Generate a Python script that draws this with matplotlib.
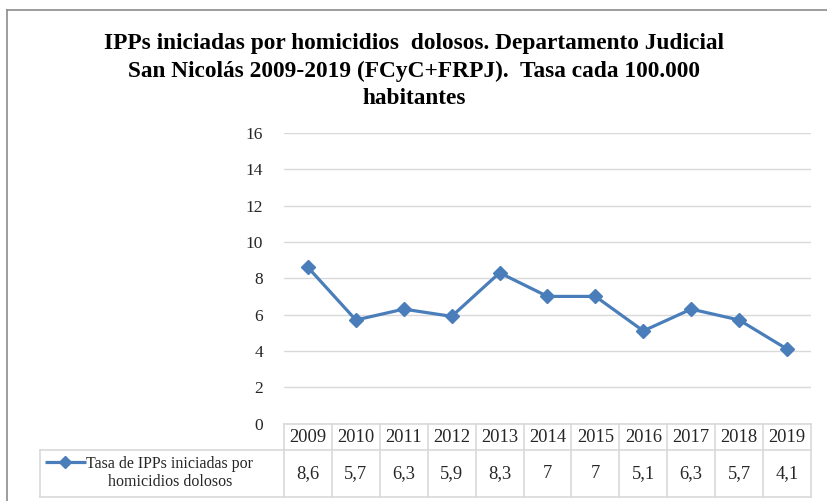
import matplotlib
matplotlib.use("Agg")
import matplotlib.pyplot as plt
from matplotlib.lines import Line2D
from matplotlib.transforms import blended_transform_factory

years = ["2009", "2010", "2011", "2012", "2013", "2014", "2015", "2016", "2017", "2018", "2019"]
tasa = [8.6, 5.7, 6.3, 5.9, 8.3, 7, 7, 5.1, 6.3, 5.7, 4.1]
series_label = "Tasa de IPPs iniciadas por\nhomicidios dolosos"
y_ticks = [0, 2, 4, 6, 8, 10, 12, 14, 16]
title = ("IPPs iniciadas por homicidios  dolosos. Departamento Judicial\n"
         "San Nicolás 2009-2019 (FCyC+FRPJ).  Tasa cada 100.000\n"
         "habitantes")

W, H = 828, 501
LINE = "#4A7EBB"
GRID = "#D9D9D9"
TXT = "#262626"
plt.rcParams["font.family"] = ["Liberation Serif", "DejaVu Serif"]

fig = plt.figure(figsize=(W / 100, H / 100), dpi=100)

def fx(px):
    return px / W

def fy(py):
    return 1 - py / H

# outer chart frame
fig.add_artist(Line2D([fx(7), 1.0], [fy(10), fy(10)], color="#8C8C8C", lw=1.2))
fig.add_artist(Line2D([fx(7), fx(7)], [fy(10), 0.0], color="#8C8C8C", lw=1.2))

fig.text(0.5, fy(71), title, ha="center", va="center", fontsize=16.8,
         fontweight="bold", color="black", linespacing=1.38)

ax = fig.add_axes([fx(284), fy(423.5), fx(811) - fx(284), fy(133) - fy(423.5)])
x = list(range(len(years)))
ax.plot(x, tasa, color=LINE, lw=2.3, marker="D", markersize=7,
        markerfacecolor=LINE, markeredgecolor=LINE)
ax.set_xlim(-0.5, len(years) - 0.5)
ax.set_ylim(0, 16)
ax.set_yticks(y_ticks)
ax.set_yticklabels([str(t) for t in y_ticks], fontsize=12.5, color=TXT)
ax.tick_params(axis="y", length=0, pad=15)
ax.set_xticks([])
ax.yaxis.grid(True, color=GRID, lw=1)
ax.set_axisbelow(True)
for s in ax.spines.values():
    s.set_visible(False)

# data table below the plot
tr = blended_transform_factory(ax.transData, fig.transFigure)
y_top, y_mid, y_bot = fy(424), fy(450), fy(497)
n = len(years)
for i in range(n + 1):
    xe = i - 0.5
    ax.add_artist(Line2D([xe, xe], [y_bot, y_top], transform=tr, color=GRID,
                         lw=1.2, clip_on=False))
for yy in (y_top, y_mid, y_bot):
    ax.add_artist(Line2D([-0.5, n - 0.5], [yy, yy], transform=tr, color=GRID,
                         lw=1.2, clip_on=False))
for i, (yr, v) in enumerate(zip(years, tasa)):
    ax.text(i, (y_top + y_mid) / 2, yr, transform=tr, ha="center", va="center",
            fontsize=13.3, color=TXT)
    lab = f"{v:g}".replace(".", ",")
    ax.text(i, (y_mid + y_bot) / 2, lab, transform=tr, ha="center", va="center",
            fontsize=13.3, color=TXT)

# legend cell
fig.add_artist(Line2D([fx(40), fx(284)], [y_mid, y_mid], color=GRID, lw=1.2))
fig.add_artist(Line2D([fx(40), fx(284)], [y_bot, y_bot], color=GRID, lw=1.2))
fig.add_artist(Line2D([fx(40), fx(40)], [y_bot, y_mid], color=GRID, lw=1.2))
fig.add_artist(Line2D([fx(45), fx(86)], [fy(462), fy(462)], color=LINE, lw=2.3,
                      solid_capstyle="butt"))
fig.add_artist(Line2D([fx(65)], [fy(462)], color=LINE, marker="D", markersize=6,
                      markerfacecolor=LINE, markeredgecolor=LINE, lw=0))
fig.text(fx(170), fy(473), series_label, ha="center", va="center", fontsize=11.5,
         color=TXT, linespacing=1.25)

fig.savefig("out.png", dpi=100)
